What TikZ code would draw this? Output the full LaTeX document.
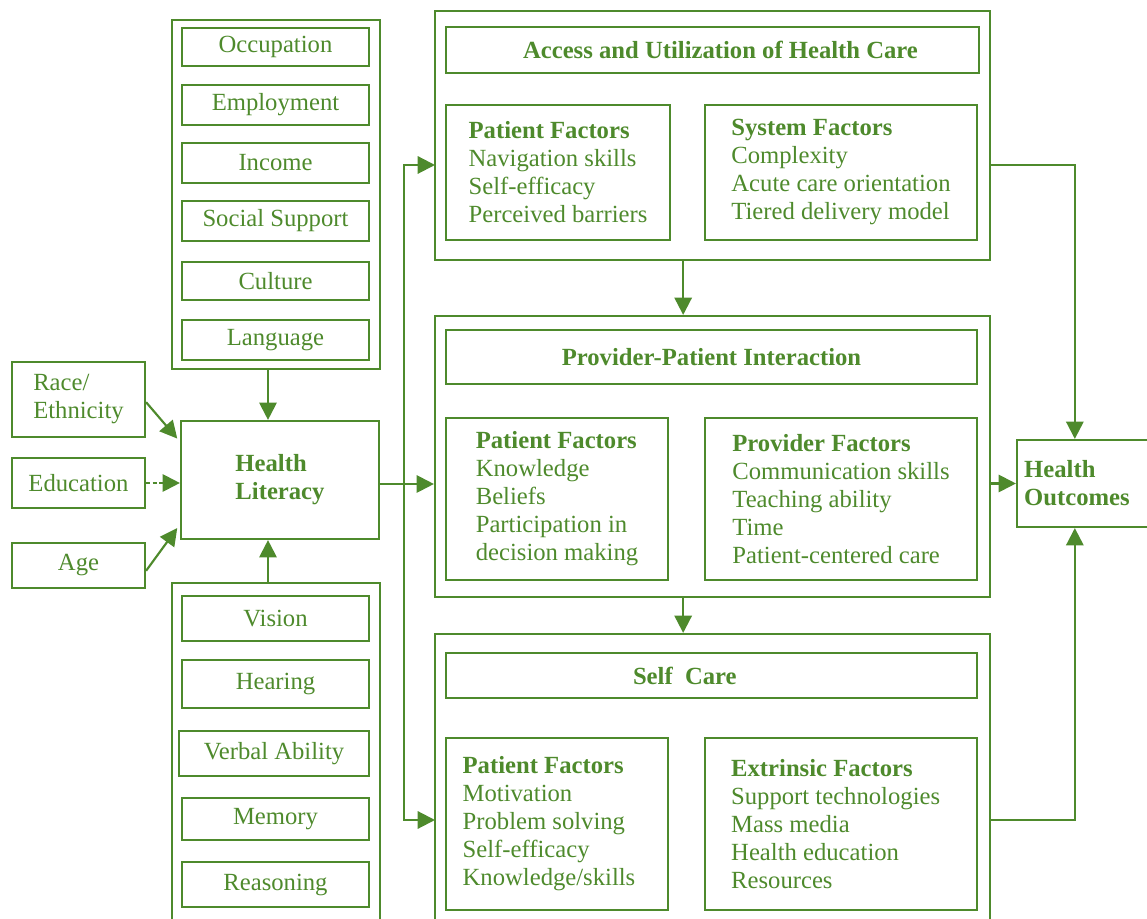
\documentclass[tikz,border=0pt]{standalone}
\usepackage{fontspec}
\setmainfont{Liberation Serif}
\usetikzlibrary{arrows.meta,fit}
\definecolor{lg}{RGB}{78,138,44}
\begin{document}
\begin{tikzpicture}[x=0.75pt,y=-0.75pt,
  font=\fontsize{18.5}{21}\selectfont,
  box/.style={draw=lg,line width=1.6pt,inner sep=0pt},
  txt/.style={text=lg,align=left,inner sep=0pt},
  btxt/.style={txt,font=\fontsize{18.5}{21}\selectfont\bfseries},
  arr/.style={draw=lg,line width=1.6pt,-{Triangle[length=13pt,width=13pt]}}]
\useasboundingbox (0,0) rectangle (1147,919);
\clip (0,0) rectangle (1147,919);

% social and demographic determinants
\node[box,fit={(172,20)(380,369)}] (soc) {};
\node[box,fit={(182,28)(369,66)}] (occ) {};
\node[txt] (occt) at (occ.center) {Occupation};
\node[box,fit={(182,85)(369,125)}] (emp) {};
\node[txt] (empt) at (emp.center) {Employment};
\node[box,fit={(182,143)(369,183)}] (inc) {};
\node[txt] (inct) at (inc.center) {Income};
\node[box,fit={(182,201)(369,241)}] (sup) {};
\node[txt] (supt) at (sup.center) {Social Support};
\node[box,fit={(182,262)(369,300)}] (cul) {};
\node[txt] (cult) at (cul.center) {Culture};
\node[box,fit={(182,320)(369,360)}] (lan) {};
\node[txt] (lant) at (lan.center) {Language};

% individual characteristics
\node[box,fit={(12,362)(145,437)}] (race) {};
\node[txt] (racet) at (race.center) {Race/\\Ethnicity};
\node[box,fit={(12,458)(145,508)}] (edu) {};
\node[txt] (edut) at (edu.center) {Education};
\node[box,fit={(12,543)(145,588)}] (age) {};
\node[txt] (aget) at (age.center) {Age};

% health literacy
\node[box,fit={(181,421)(379,539)}] (hl) {};
\node[btxt] (hlt) at (hl.center) {Health\\Literacy};

% physical and cognitive abilities
\node[box,fit={(172,583)(380,940)}] (bio) {};
\node[box,fit={(182,596)(369,641)}] (vis) {};
\node[txt] (vist) at (vis.center) {Vision};
\node[box,fit={(182,660)(369,708)}] (hea) {};
\node[txt] (heat) at (hea.center) {Hearing};
\node[box,fit={(179,731)(369,776)}] (ver) {};
\node[txt] (vert) at (ver.center) {Verbal Ability};
\node[box,fit={(182,798)(369,840)}] (mem) {};
\node[txt] (memt) at (mem.center) {Memory};
\node[box,fit={(182,862)(369,907)}] (rea) {};
\node[txt] (reat) at (rea.center) {Reasoning};

% access and utilization
\node[box,fit={(435,11)(990,260)}] (acc) {};
\node[box,fit={(446,27)(979,73)}] (acct) {};
\node[btxt] (acctt) at ([xshift=6pt]acct.center) {Access and Utilization of Health Care};
\node[box,fit={(446,105)(670,240)}] (apf) {};
\node[txt] (apft) at (apf.center) {\textbf{Patient Factors}\\Navigation skills\\Self-efficacy\\Perceived barriers};
\node[box,fit={(705,105)(977,240)}] (asf) {};
\node[txt] (asft) at (asf.center) {\textbf{System Factors}\\Complexity\\Acute care orientation\\Tiered delivery model};

% provider-patient interaction
\node[box,fit={(435,316)(990,597)}] (prov) {};
\node[box,fit={(446,330)(977,384)}] (provt) {};
\node[btxt] (provtt) at (provt.center) {Provider-Patient Interaction};
\node[box,fit={(446,418)(668,580)}] (ppf) {};
\node[txt] (ppft) at (ppf.center) {\textbf{Patient Factors}\\Knowledge\\Beliefs\\Participation in\\decision making};
\node[box,fit={(705,418)(977,580)}] (ppr) {};
\node[txt] (pprt) at (ppr.center) {\textbf{Provider Factors}\\Communication skills\\Teaching ability\\Time\\Patient-centered care};

% self care
\node[box,fit={(435,634)(990,940)}] (sc) {};
\node[box,fit={(446,653)(977,698)}] (sct) {};
\node[btxt] (sctt) at ([xshift=-20pt]sct.center) {Self\ \ Care};
\node[box,fit={(446,738)(668,910)}] (spf) {};
\node[txt] (spft) at ([xshift=-6pt]spf.center) {\textbf{Patient Factors}\\Motivation\\Problem solving\\Self-efficacy\\Knowledge/skills};
\node[box,fit={(705,738)(977,910)}] (sef) {};
\node[txt] (seft) at ([xshift=-4pt]sef.center) {\textbf{Extrinsic Factors}\\Support technologies\\Mass media\\Health education\\Resources};

% outcomes
\node[box,fit={(1017,440)(1170,527)}] (ho) {};
\node[btxt,anchor=west] (hot) at ([xshift=6pt]ho.west) {Health\\Outcomes};

% connectors into health literacy
\draw[arr] ([xshift=-6pt]soc.south) -- ([xshift=-6pt]soc.south |- hl.north);
\draw[arr] ([xshift=-6pt]bio.north) -- ([xshift=-6pt]bio.north |- hl.south);
\draw[arr] ([yshift=-2pt]race.east) -- ([yshift=-14pt,xshift=-2pt]hl.north west);
\draw[arr,dash pattern=on 3pt off 2pt] (edu.east) -- (edu.east -| hl.west);
\draw[arr] ([yshift=-4pt]age.east) -- ([yshift=9pt,xshift=-2pt]hl.south west);

% distribution from health literacy
\coordinate (accin) at (435,165);
\coordinate (scin) at (435,820);
\coordinate (split) at (404,484);
\draw[arr] (hl.east |- split) -- (split -| prov.west);
\draw[arr] (split) |- (accin);
\draw[arr] (split) |- (scin);

% chain between care stages
\draw[arr] ([xshift=-22pt]acc.south) -- ([xshift=-22pt]acc.south |- prov.north);
\draw[arr] ([xshift=-22pt]prov.south) -- ([xshift=-22pt]prov.south |- sc.north);

% into health outcomes
\coordinate (accout) at (990,165);
\coordinate (scout) at (990,820);
\draw[arr] (accout) -| ([xshift=-14pt]ho.north);
\draw[arr] (scout) -| ([xshift=-14pt]ho.south);
\draw[arr] (ho.west -| prov.east) -- (ho.west);
\end{tikzpicture}
\end{document}
